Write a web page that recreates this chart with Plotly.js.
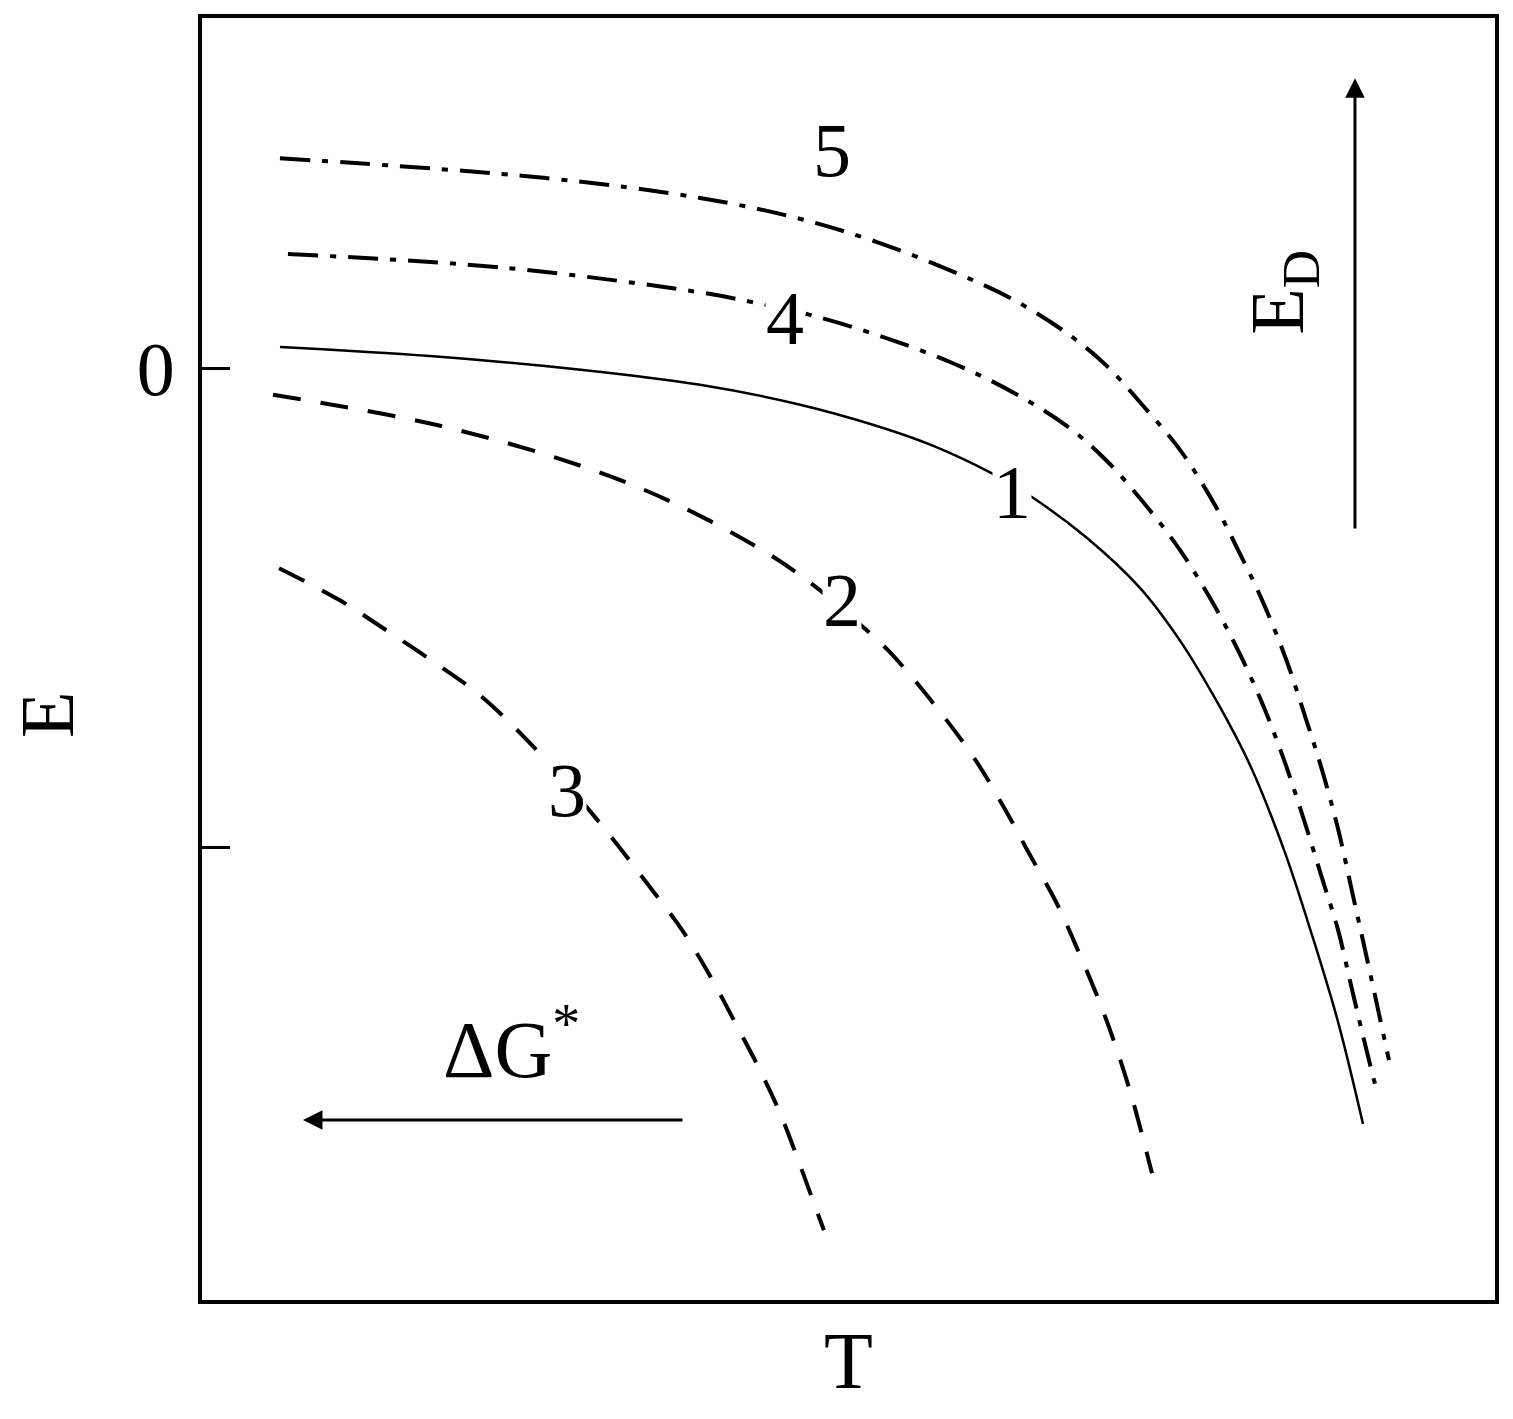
<!DOCTYPE html>
<html>
<head>
<meta charset="utf-8">
<script src="https://cdn.plot.ly/plotly-3.0.1.min.js"></script>
<style>html,body{margin:0;padding:0;background:#fff;}#chart{width:1513px;height:1419px;}</style>
</head>
<body>
<div id="chart"></div>
<script>
// Curve 1 (solid)
const c1x = [0.603, 1.763, 2.947, 3.852, 4.602, 5.220, 5.661, 6.102, 6.427, 6.845, 7.254, 7.556, 7.842, 8.105, 8.368, 8.585, 8.786, 8.979];
const c1y = [0.044, 0.025, -0.004, -0.035, -0.075, -0.121, -0.163, -0.219, -0.271, -0.355, -0.459, -0.566, -0.693, -0.829, -1.006, -1.184, -1.365, -1.578];
// Curve 2 (dashed)
const c2x = [0.549, 1.817, 2.916, 3.650, 4.393, 4.756, 5.050, 5.305, 5.630, 5.971, 6.210, 6.396, 6.613, 6.767, 6.945, 7.069, 7.193, 7.347];
const c2y = [-0.056, -0.119, -0.203, -0.282, -0.390, -0.459, -0.526, -0.589, -0.691, -0.814, -0.921, -1.013, -1.119, -1.211, -1.326, -1.418, -1.524, -1.681];
// Curve 3 (dashed)
const c3x = [0.596, 1.060, 1.423, 1.794, 2.158, 2.529, 2.815, 3.171, 3.434, 3.712, 3.929, 4.138, 4.323, 4.470, 4.602, 4.710, 4.810];
const c3y = [-0.418, -0.484, -0.547, -0.614, -0.685, -0.781, -0.866, -0.981, -1.073, -1.173, -1.269, -1.374, -1.470, -1.555, -1.647, -1.727, -1.800];
// Curve 4 (dash-dot)
const c4x = [0.665, 2.351, 3.875, 4.246, 4.702, 5.220, 5.808, 6.280, 6.698, 6.991, 7.285, 7.564, 7.804, 8.012, 8.198, 8.368, 8.523, 8.662, 8.786, 8.886, 8.987, 9.087];
const c4y = [0.238, 0.209, 0.157, 0.138, 0.111, 0.069, 0.010, -0.052, -0.123, -0.192, -0.282, -0.380, -0.484, -0.589, -0.699, -0.818, -0.944, -1.065, -1.173, -1.288, -1.403, -1.511];
// Curve 5 (dash-dot)
const c5x = [0.603, 2.645, 3.852, 4.602, 5.220, 5.870, 6.280, 6.698, 6.991, 7.285, 7.564, 7.834, 8.020, 8.198, 8.384, 8.538, 8.662, 8.786, 8.902, 9.026, 9.180];
const c5y = [0.438, 0.397, 0.355, 0.313, 0.263, 0.194, 0.142, 0.071, 0.006, -0.081, -0.171, -0.286, -0.384, -0.484, -0.608, -0.733, -0.839, -0.962, -1.102, -1.253, -1.445];

// Curve labels and their positions
const curveLabels = ["5", "4", "1", "2", "3"];
const labelX = [4.872, 4.509, 6.264, 4.950, 2.823];
const labelY = [0.455, 0.104, -0.259, -0.484, -0.881];

// Axis ticks
const yTickVals = [0, -1];
const yTickText = ["0", ""];

const FONT = "Liberation Serif, Times New Roman, serif";
const dashDot = "30px,12px,6px,12px";
const dashed = "28px,20px";

function tr(x, y, w, dash) {
  return {x: x, y: y, type: "scatter", mode: "lines",
    line: {color: "#000", width: w, dash: dash, shape: "spline", smoothing: 1.0},
    hoverinfo: "skip", showlegend: false};
}

const data = [
  tr(c1x, c1y, 2.5, "solid"),
  tr(c2x, c2y, 4, dashed),
  tr(c3x, c3y, 4, dashed),
  tr(c4x, c4y, 4, dashDot),
  tr(c5x, c5y, 4, dashDot)
];

const annotations = curveLabels.map((t, i) => ({
  x: labelX[i], y: labelY[i], xref: "x", yref: "y", text: t, showarrow: false,
  font: {family: FONT, size: 76, color: "#000"}, bgcolor: i === 0 ? "rgba(0,0,0,0)" : "#fff",
  xanchor: "center", yanchor: "middle", borderpad: 0
}));

annotations.push({
  x: 2.39, y: -1.41, xref: "x", yref: "y", text: "ΔG<sup>*</sup>", showarrow: false,
  font: {family: FONT, size: 80, color: "#000"}, xanchor: "center", yanchor: "middle"
});
annotations.push({
  x: 8.36, y: 0.159, xref: "x", yref: "y", text: "E<sub>D</sub>", showarrow: false, textangle: -90,
  font: {family: FONT, size: 76, color: "#000"}, xanchor: "center", yanchor: "middle"
});
// y-axis label E (placed where the reference shows it)
annotations.push({
  x: -0.1199, y: 0.4563, xref: "paper", yref: "paper", text: "E", showarrow: false, textangle: -90,
  font: {family: FONT, size: 76, color: "#000"}, xanchor: "center", yanchor: "middle"
});
// E_D arrow (upward)
annotations.push({
  x: 8.917, y: 0.605, xref: "x", yref: "y", ax: 8.917, ay: -0.338, axref: "x", ayref: "y",
  text: "", showarrow: true, arrowhead: 2, arrowsize: 1.3, arrowwidth: 3, arrowcolor: "#000", standoff: 0
});
// ΔG* arrow (leftward)
annotations.push({
  x: 0.781, y: -1.570, xref: "x", yref: "y", ax: 3.728, ay: -1.570, axref: "x", ayref: "y",
  text: "", showarrow: true, arrowhead: 2, arrowsize: 1.3, arrowwidth: 3, arrowcolor: "#000", standoff: 0
});

const layout = {
  width: 1513, height: 1419,
  margin: {l: 202, r: 18, t: 18, b: 119},
  paper_bgcolor: "#fff", plot_bgcolor: "#fff",
  showlegend: false,
  xaxis: {
    range: [0, 10], showgrid: false, zeroline: false, showticklabels: false, ticks: "",
    showline: true, mirror: true, linewidth: 4, linecolor: "#000",
    title: {text: "T", font: {family: FONT, size: 80, color: "#000"}, standoff: 30}
  },
  yaxis: {
    range: [-1.9457, 0.7307], showgrid: false, zeroline: false,
    tickmode: "array", tickvals: yTickVals, ticktext: yTickText,
    ticks: "inside", ticklen: 28, tickwidth: 3, tickcolor: "#000",
    tickfont: {family: FONT, size: 76, color: "#000"}, ticklabelstandoff: 8,
    showline: true, mirror: true, linewidth: 4, linecolor: "#000"
  },
  annotations: annotations
};

Plotly.newPlot("chart", data, layout, {displayModeBar: false, staticPlot: true});
</script>
</body>
</html>
